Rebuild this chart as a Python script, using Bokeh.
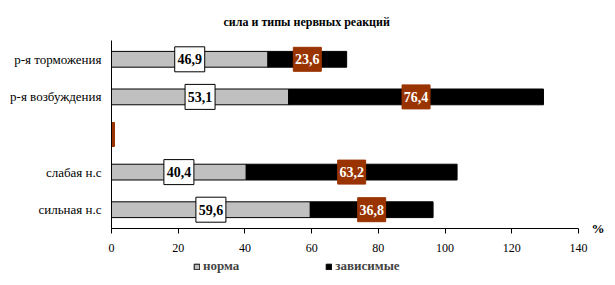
from bokeh.plotting import figure
from bokeh.layouts import column
from bokeh.models import (Legend, LegendItem, ColumnDataSource, FixedTicker,
                          Range1d, LinearAxis)
from bokeh.core.properties import value
from bokeh.embed import file_html
from bokeh.resources import INLINE

title_text = "сила и типы нервных реакций"
categories = ["р-я торможения", "р-я возбуждения", " ", "слабая н.с", "сильная н.с"]
norma = [46.9, 53.1, 0.0, 40.4, 59.6]
zavis = [23.6, 76.4, 0.0, 63.2, 36.8]
series_names = ["норма", "зависимые"]
x_ticks = [0, 20, 40, 60, 80, 100, 120, 140]
unit_label = "%"

GREY = "#C0C0C0"
BLACK = "#000000"
BROWN = "#993300"
SERIF = "Liberation Serif"

def fmt(v):
    return ("%.1f" % v).replace(".", ",") if v > 0 else ""

n_cat = len(categories)
ypos = [n_cat - 1 - i for i in range(n_cat)]  # first category on top

p = figure(width=615, height=257, output_backend="svg", toolbar_location=None,
           y_range=Range1d(-0.5, n_cat - 0.5),
           x_range=(0, 140), min_border_left=111, min_border_right=37,
           min_border_top=40, min_border_bottom=29)
p.outline_line_color = None
p.grid.visible = False
p.background_fill_color = "white"
p.border_fill_color = "white"

p.title.text = title_text
p.title.align = "left"
p.title.offset = 112
p.title.text_font = SERIF
p.title.text_font_style = "bold"
p.title.text_font_size = "12px"
p.title.text_color = BLACK
p.title.standoff = 23

right2 = [a + b for a, b in zip(norma, zavis)]
src = ColumnDataSource(dict(y=ypos, n=norma, r2=right2, l2=norma))

r1 = p.hbar(y="y", left=0, right="n", height=0.42, source=src,
            fill_color=GREY, line_color=BLACK, line_width=1)
r2 = p.hbar(y="y", left="l2", right="r2", height=0.42, source=src,
            fill_color=BLACK, line_color=BLACK, line_width=1)

# value labels for норма
nl = dict(x=[], y=[], t=[])
for yy, v in zip(ypos, norma):
    if v > 0:
        nl["x"].append(v / 2); nl["y"].append(yy); nl["t"].append(fmt(v))
nsrc = ColumnDataSource(nl)
p.rect(x="x", y="y", width=30, height=25, width_units="screen", height_units="screen",
       source=nsrc, fill_color="white", line_color=BLACK, line_width=1)
p.text(x="x", y="y", text="t", source=nsrc, text_align="center", text_baseline="middle",
       text_font=value(SERIF), text_font_style="bold", text_font_size="14px", text_color=BLACK)

# value labels for зависимые
zl = dict(x=[], y=[], t=[], w=[])
for yy, a, b in zip(ypos, norma, zavis):
    zl["x"].append(a + b / 2); zl["y"].append(yy); zl["t"].append(fmt(b))
    zl["w"].append(28 if b > 0 else 6)
zsrc = ColumnDataSource(zl)
p.rect(x="x", y="y", width="w", height=24, width_units="screen", height_units="screen",
       source=zsrc, fill_color=BROWN, line_color=BROWN, line_width=1)
p.text(x="x", y="y", text="t", source=zsrc, text_align="center", text_baseline="middle",
       text_font=value(SERIF), text_font_style="bold", text_font_size="14px", text_color="white")

# axes
xa = p.xaxis[0]
xa.ticker = FixedTicker(ticks=x_ticks)
xa.axis_line_color = BLACK
xa.major_tick_line_color = BLACK
xa.major_tick_out = 5
xa.major_tick_in = 0
xa.minor_tick_line_color = None
xa.major_label_text_font = SERIF
xa.major_label_text_font_size = "12px"
xa.major_label_text_color = BLACK
xa.major_label_standoff = 10

ya = p.yaxis[0]
ya.ticker = FixedTicker(ticks=ypos)
ya.major_label_overrides = {yy: c for yy, c in zip(ypos, categories)}
ya.axis_line_color = BLACK
ya.major_tick_line_color = None
ya.major_tick_out = 0
ya.major_tick_in = 0
ya.minor_tick_line_color = None
ya.major_label_text_font = SERIF
ya.major_label_text_font_size = "13px"
ya.major_label_text_color = BLACK
ya.major_label_standoff = 10

# unit "%" as a one-tick axis on the right at the level of the x axis
ua = LinearAxis(ticker=FixedTicker(ticks=[-0.5]),
                major_label_overrides={-0.5: unit_label})
ua.axis_line_color = None
ua.major_tick_line_color = None
ua.minor_tick_line_color = None
ua.major_tick_out = 0
ua.major_tick_in = 0
ua.major_label_standoff = 13
ua.major_label_text_font = SERIF
ua.major_label_text_font_style = "bold"
ua.major_label_text_font_size = "13px"
ua.major_label_text_color = BLACK
p.add_layout(ua, "right")

# legend strip below the chart (its frame is aligned with the chart's frame)
lg = figure(width=615, height=28, output_backend="svg", toolbar_location=None,
            x_range=Range1d(0, 140), y_range=Range1d(100, 101),
            min_border=0, min_border_left=111, min_border_right=37,
            min_border_top=0, min_border_bottom=0)
lg.axis.visible = False
lg.grid.visible = False
lg.outline_line_color = None
lg.background_fill_color = "white"
lg.border_fill_color = "white"
# same data, outside this strip's visible y-range: only their legend glyphs show
g1 = lg.hbar(y="y", left=0, right="n", height=0.42, source=src,
             fill_color=GREY, line_color=BLACK, line_width=1)
g2 = lg.hbar(y="y", left="l2", right="r2", height=0.42, source=src,
             fill_color=BLACK, line_color=BLACK, line_width=1)
legend = Legend(items=[LegendItem(label=series_names[0], renderers=[g1]),
                       LegendItem(label=series_names[1], renderers=[g2])],
                orientation="horizontal", location=(193 - 111, 11),
                glyph_width=7, glyph_height=7, label_standoff=3, spacing=86,
                padding=0, margin=0, border_line_color=None, background_fill_alpha=0,
                label_text_font=SERIF, label_text_font_style="bold",
                label_text_font_size="13px", label_height=14)
lg.add_layout(legend, "center")

layout = column(p, lg, spacing=0)
open("out.html", "w").write(file_html(layout, INLINE))
